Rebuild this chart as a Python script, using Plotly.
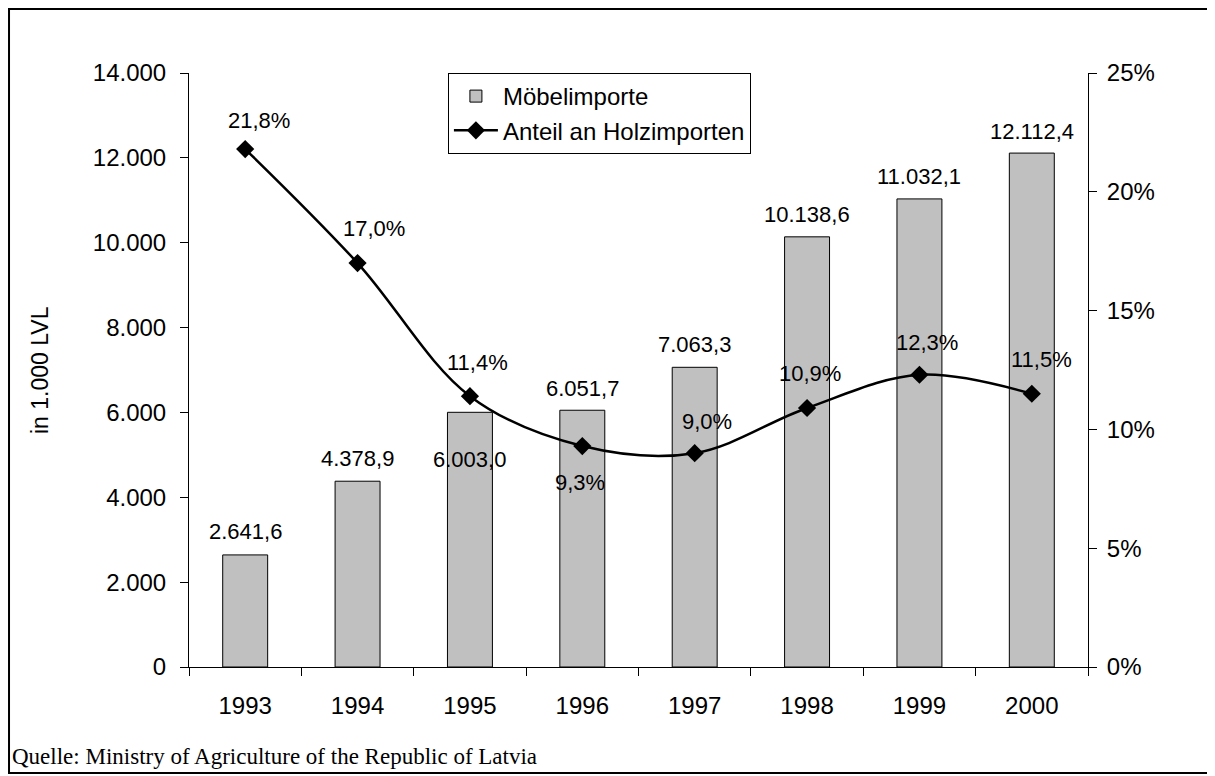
"""
Möbelimporte Lettland 1993-2000 mit Anteil an Holzimporten.
"""
import plotly.graph_objects as go

years = ["1993", "1994", "1995", "1996", "1997", "1998", "1999", "2000"]
imports = [2641.6, 4378.9, 6003.0, 6051.7, 7063.3, 10138.6, 11032.1, 12112.4]
share = [0.218, 0.170, 0.114, 0.093, 0.090, 0.109, 0.123, 0.115]
imports_text = ["2.641,6", "4.378,9", "6.003,0", "6.051,7", "7.063,3",
                "10.138,6", "11.032,1", "12.112,4"]
share_text = ["21,8%", "17,0%", "11,4%", "9,3%", "9,0%", "10,9%", "12,3%", "11,5%"]

# label offsets in px (Excel placed them by hand)
bar_shift = [23, 23, -47, 22, 23, 22, 22, 22]
line_shift = [29, 35, 34, -36, 32, 35, 32, 34]
line_xshift = [14, 16, 8, -2, 12, 3, 8, 10]

FONT = "Liberation Sans, Arial, sans-serif"
LABEL = dict(size=22, family=FONT, color="black")

fig = go.Figure()
fig.add_trace(go.Bar(
    x=years, y=imports, name="Möbelimporte", width=0.4,
    marker=dict(color="#C0C0C0", line=dict(color="black", width=1)),
))
fig.add_trace(go.Scatter(
    x=years, y=share, name="Anteil an Holzimporten", yaxis="y2",
    mode="lines+markers", line=dict(color="black", width=2.5, shape="spline", smoothing=1),
    marker=dict(symbol="diamond", size=14, color="black"),
))

# category positions are numbered from 0 for annotations
annotations = []
for i, (v, t, s) in enumerate(zip(imports, imports_text, bar_shift)):
    annotations.append(dict(x=i, y=v, xref="x", yref="y", text=t, showarrow=False,
                            yshift=s, font=LABEL))
for i, (v, t, s, xs) in enumerate(zip(share, share_text, line_shift, line_xshift)):
    annotations.append(dict(x=i, y=v, xref="x", yref="y2", text=t, showarrow=False,
                            yshift=s, xshift=xs, font=LABEL))
annotations.append(dict(x=-0.1657, y=0.5, xref="paper", yref="paper", text="in 1.000 LVL",
                        textangle=-90, showarrow=False, xanchor="center", yanchor="middle",
                        font=dict(size=23, family=FONT, color="black")))
annotations.append(dict(x=-0.199, y=-0.1515, xref="paper", yref="paper", xanchor="left",
                        yanchor="middle",
                        text="Quelle: Ministry of Agriculture of the Republic of Latvia",
                        showarrow=False,
                        font=dict(size=23, family="Liberation Serif, Times New Roman, serif",
                                  color="black")))

fig.update_layout(
    width=1207, height=768,
    margin=dict(l=181, r=127, t=65, b=109),
    paper_bgcolor="white", plot_bgcolor="white",
    separators=",.",
    font=dict(family=FONT, size=24, color="black"),
    showlegend=True,
    legend=dict(x=0.288, y=1.0, xanchor="left", yanchor="top",
                bgcolor="white", bordercolor="black", borderwidth=1,
                font=dict(size=24), tracegroupgap=0, itemwidth=44),
    xaxis=dict(type="category", tickson="boundaries", ticks="outside", ticklen=8,
               showline=True, linecolor="black", linewidth=1, showgrid=False,
               tickcolor="black", tickangle=0, ticklabelstandoff=17),
    yaxis=dict(range=[0, 14000], dtick=2000, tickformat=",d", ticks="outside",
               ticklen=8, showline=True, linecolor="black", linewidth=1,
               showgrid=False, zeroline=False, tickcolor="black", ticklabelstandoff=9),
    yaxis2=dict(range=[0, 0.25], dtick=0.05, tickformat=".0%", overlaying="y",
                side="right", ticks="outside", ticklen=8, showline=True,
                linecolor="black", linewidth=1, showgrid=False, zeroline=False,
                tickcolor="black", ticklabelstandoff=5),
    annotations=annotations,
    shapes=[dict(type="rect", xref="paper", yref="paper", x0=-0.2002, x1=1.1379,
                 y0=-0.1785, y1=1.1077, line=dict(color="black", width=2))],
)

fig.write_html("out.html")
